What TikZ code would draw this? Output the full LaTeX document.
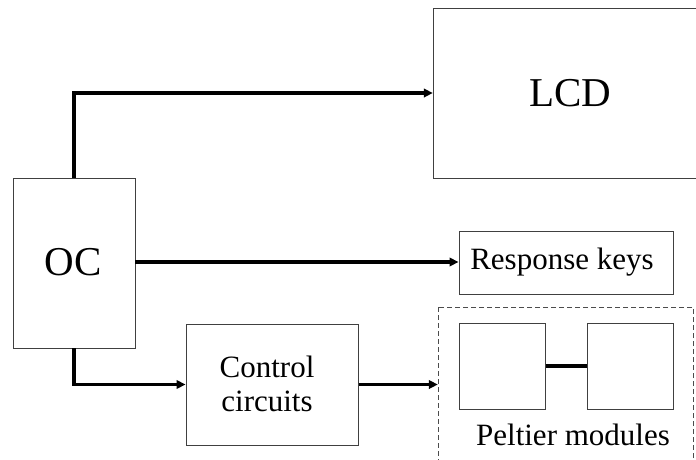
\documentclass[tikz,border=0pt]{standalone}
\usepackage{fontspec}
\setmainfont{Liberation Serif}
\usetikzlibrary{arrows.meta}
\begin{document}
\begin{tikzpicture}[x=1pt,y=-1pt,
  block/.style={draw=black!75, line width=1pt, inner sep=0pt},
  bigtext/.style={font=\fontsize{41}{46}\selectfont, inner sep=0pt},
  midtext/.style={font=\fontsize{31}{36}\selectfont, inner sep=0pt, align=center},
  flow/.style={line width=3.8pt, -{Triangle[length=9pt,width=8.5pt]}},
  link/.style={line width=3.5pt},
  group/.style={draw=black!70, line width=1pt, dash pattern=on 5pt off 3pt}]
\useasboundingbox (0,0) rectangle (696,459);

% blocks
\draw[block] (13,178) rectangle (135,348);
\node[inner sep=0pt, minimum width=122pt, minimum height=170pt] (oc) at (74,263) {};
\node[bigtext] (octxt) at (73,262) {OC};

\draw[block] (433,8) rectangle (710,178);
\node[inner sep=0pt, minimum width=277pt, minimum height=170pt] (lcd) at (571.5,93) {};
\node[bigtext] (lcdtxt) at (570,93) {LCD};

\node[block, minimum width=214pt, minimum height=63pt] (keys) at (566,262.5) {};
\node[midtext] (keystxt) at (562,262) {Response keys};

\node[block, minimum width=172pt, minimum height=121pt] (ctrl) at (272,384.5) {};
\node[midtext] (ctrltxt) at (267,384) {Control\\[-2pt]circuits};

% Peltier group
\draw[group] (438,307) rectangle (693,475);
\node[inner sep=0pt, minimum width=255pt, minimum height=168pt] (pelt) at (565.5,391) {};
\node[block, minimum width=86pt, minimum height=86pt] (p1) at (502,366) {};
\node[block, minimum width=86pt, minimum height=86pt] (p2) at (630,366) {};
\draw[link] (p1.east) -- (p2.west);
\node[midtext, anchor=base] (pelttxt) at (573,445) {Peltier modules};

% connectors
\draw[flow] (74,178) |- (lcd.west);
\draw[flow] (oc.east |- 0,262) -- (keys.west |- 0,262);
\draw[flow] (74,348) |- (ctrl.west);
\draw[flow] (ctrl.east) -- (pelt.west |- ctrl.east);
\end{tikzpicture}
\end{document}
